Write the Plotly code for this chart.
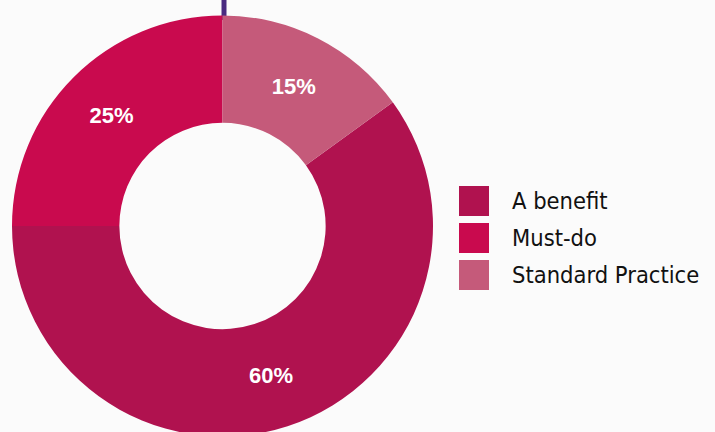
import plotly.graph_objects as go

labels = ["A benefit", "Must-do", "Standard Practice"]
values = [60, 25, 15]
colors = ["#B0124F", "#C90A4E", "#C55A7A"]

W, H = 715, 437
BG = "#FBFBFB"

cx, cy, r = 222.5, 226, 210.5

fig = go.Figure()
fig.add_trace(go.Pie(
    labels=labels,
    values=values,
    sort=False,
    direction="clockwise",
    rotation=54,
    hole=0.49,
    marker=dict(colors=colors, line=dict(width=0)),
    textinfo="percent",
    texttemplate="%{percent:.0%}",
    textposition="inside",
    insidetextorientation="horizontal",
    textfont=dict(family="Liberation Sans, Arial", size=22, color="white", weight="bold"),
    domain=dict(x=[(cx - r) / W, (cx + r) / W], y=[(H - cy - r) / H, (H - cy + r) / H]),
    showlegend=False,
    hoverinfo="label+percent",
))

shapes = [dict(type="line", xref="paper", yref="paper",
               x0=224 / W, x1=224 / W, y0=1, y1=(H - 20) / H,
               line=dict(color="#4A2A80", width=5), layer="below")]
annotations = []
sw_x0, sw_size, y_first, gap = 459, 30, 186, 37
for i, (lab, col) in enumerate(zip(labels, colors)):
    top = y_first + i * gap
    shapes.append(dict(type="rect", xref="paper", yref="paper",
                       x0=sw_x0 / W, x1=(sw_x0 + sw_size) / W,
                       y0=(H - top) / H, y1=(H - top - sw_size) / H,
                       fillcolor=col, line=dict(width=0)))
    annotations.append(dict(text=lab, xref="paper", yref="paper",
                            x=510 / W, y=(H - top - sw_size / 2) / H,
                            xanchor="left", yanchor="middle", showarrow=False,
                            font=dict(family="DejaVu Sans Condensed, Liberation Sans Narrow, sans-serif",
                                      size=23.5, color="#111111")))

fig.update_layout(
    width=W, height=H,
    margin=dict(l=0, r=0, t=0, b=0),
    paper_bgcolor=BG, plot_bgcolor=BG,
    shapes=shapes, annotations=annotations,
)

fig.write_html("out.html", config={"displayModeBar": False},
               post_script="document.documentElement.style.overflow='hidden';document.body.style.margin='0';document.body.style.overflow='hidden';")
